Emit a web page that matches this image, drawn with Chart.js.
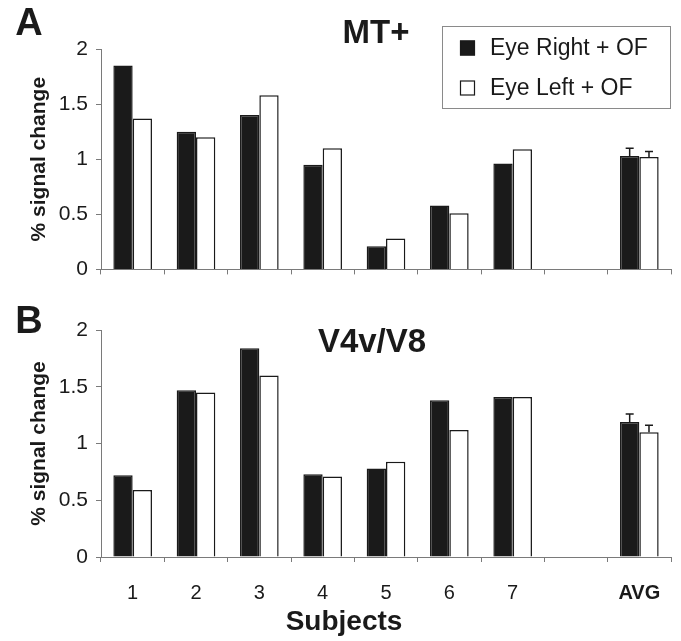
<!DOCTYPE html>
<html>
<head>
<meta charset="utf-8">
<script src="https://cdn.jsdelivr.net/npm/chart.js@4"></script>
<style>
  body { margin: 0; background: #fff; }
  .panel { position: absolute; left: 0; }
</style>
</head>
<body>
<div class="panel" style="top:0"><canvas id="mtChart" width="681" height="290"></canvas></div>
<div class="panel" style="top:290px"><canvas id="v4Chart" width="681" height="351"></canvas></div>
<script>
// categories and values
const subjects = ['1', '2', '3', '4', '5', '6', '7', '', 'AVG'];
const yTicks = [0, 0.5, 1, 1.5, 2];

// panel A: MT+
const mtRight = [1.85, 1.25, 1.40, 0.95, 0.21, 0.58, 0.96, null, 1.03];
const mtLeft = [1.37, 1.20, 1.58, 1.10, 0.28, 0.51, 1.09, null, 1.02];
const mtRightErr = [null, null, null, null, null, null, null, null, 0.07];
const mtLeftErr = [null, null, null, null, null, null, null, null, 0.05];

// panel B: V4v/V8
const v4Right = [0.72, 1.47, 1.84, 0.73, 0.78, 1.38, 1.41, null, 1.19];
const v4Left = [0.59, 1.45, 1.60, 0.71, 0.84, 1.12, 1.41, null, 1.10];
const v4RightErr = [null, null, null, null, null, null, null, null, 0.07];
const v4LeftErr = [null, null, null, null, null, null, null, null, 0.06];

const FONT = "'Liberation Sans', Arial, sans-serif";
const INK = '#1a1a1a';
const AXIS = '#7a7a7a';

// error bars (upward only) on top of bars
const errorBars = {
    id: 'errorBars',
    afterDatasetsDraw(chart) {
        const ctx = chart.ctx;
        const y = chart.scales.y;
        chart.data.datasets.forEach((ds, di) => {
            if (!ds.errors) return;
            const meta = chart.getDatasetMeta(di);
            ds.errors.forEach((err, i) => {
                if (err == null || ds.data[i] == null) return;
                const bar = meta.data[i];
                const yTop = y.getPixelForValue(ds.data[i] + err);
                ctx.save();
                ctx.strokeStyle = INK;
                ctx.lineWidth = 1.5;
                ctx.beginPath();
                ctx.moveTo(bar.x, bar.y);
                ctx.lineTo(bar.x, yTop);
                ctx.moveTo(bar.x - 4, yTop);
                ctx.lineTo(bar.x + 4, yTop);
                ctx.stroke();
                ctx.restore();
            });
        });
    }
};

// panel letter, panel title and optional extra text
const panelText = {
    id: 'panelText',
    afterDraw(chart, args, opts) {
        const ctx = chart.ctx;
        ctx.save();
        ctx.fillStyle = INK;
        ctx.textAlign = 'center';
        ctx.textBaseline = 'alphabetic';
        ctx.font = `bold 38px ${FONT}`;
        ctx.fillText(opts.letter, 29, opts.letterY);
        ctx.font = `bold 33px ${FONT}`;
        ctx.fillText(opts.title, opts.titleX, opts.titleY);
        if (opts.xTitle) {
            ctx.font = `bold 28px ${FONT}`;
            ctx.fillText(opts.xTitle, opts.xTitleX, opts.xTitleY);
        }
        ctx.restore();
    }
};

// boxed legend in the upper right corner
const boxLegend = {
    id: 'boxLegend',
    afterDraw(chart, args, opts) {
        if (!opts.show) return;
        const ctx = chart.ctx;
        ctx.save();
        ctx.strokeStyle = '#8a8a8a';
        ctx.lineWidth = 1;
        ctx.strokeRect(442.5, 26.5, 228, 82);
        ctx.font = `23px ${FONT}`;
        ctx.textBaseline = 'middle';
        ctx.textAlign = 'left';
        const rows = [48, 88];
        chart.data.datasets.forEach((ds, i) => {
            const cy = rows[i];
            ctx.fillStyle = ds.backgroundColor;
            ctx.fillRect(460, cy - 7.5, 15, 15);
            ctx.strokeStyle = INK;
            ctx.lineWidth = 1.2;
            ctx.strokeRect(460.5, cy - 7, 14, 14);
            ctx.fillStyle = INK;
            ctx.fillText(ds.label, 490, cy + 1);
        });
        ctx.restore();
    }
};

function makeChart(id, right, left, rightErr, leftErr, o) {
    return new Chart(document.getElementById(id), {
        type: 'bar',
        data: {
            labels: subjects,
            datasets: [
                {
                    label: 'Eye Right + OF',
                    data: right,
                    errors: rightErr,
                    backgroundColor: INK,
                    borderColor: INK,
                    borderWidth: 1.5
                },
                {
                    label: 'Eye Left + OF',
                    data: left,
                    errors: leftErr,
                    backgroundColor: '#ffffff',
                    borderColor: INK,
                    borderWidth: 1.5
                }
            ]
        },
        options: {
            responsive: false,
            animation: false,
            devicePixelRatio: 1,
            categoryPercentage: 0.61,
            barPercentage: 1.0,
            layout: { padding: { top: o.padTop, right: 10, left: 0, bottom: 0 } },
            scales: {
                x: {
                    afterFit: s => { s.height = o.xHeight; },
                    grid: { offset: true, drawOnChartArea: false, tickLength: 5, color: AXIS },
                    border: { color: AXIS, width: 1 },
                    ticks: {
                        display: o.showX,
                        padding: 19,
                        color: INK,
                        font: c => ({
                            family: FONT,
                            size: 20,
                            weight: c.tick && c.tick.label === 'AVG' ? 'bold' : 'normal'
                        })
                    }
                },
                y: {
                    min: 0,
                    max: 2,
                    afterFit: s => { s.width = 101; },
                    afterBuildTicks: s => { s.ticks = yTicks.map(v => ({ value: v })); },
                    grid: { drawOnChartArea: false, tickLength: 5, color: AXIS },
                    border: { color: AXIS, width: 1 },
                    ticks: {
                        padding: 8,
                        color: INK,
                        font: { family: FONT, size: 21 },
                        callback: v => String(v)
                    },
                    title: {
                        display: true,
                        text: '% signal change',
                        color: INK,
                        font: { family: FONT, size: 21, weight: 'bold' },
                        padding: { top: 27, bottom: 0 }
                    }
                }
            },
            plugins: {
                legend: { display: false },
                title: { display: false },
                tooltip: { enabled: false },
                panelText: o.text,
                boxLegend: { show: o.legend }
            }
        },
        plugins: [errorBars, panelText, boxLegend]
    });
}

makeChart('mtChart', mtRight, mtLeft, mtRightErr, mtLeftErr, {
    padTop: 49, xHeight: 14, showX: false, legend: true,
    text: { letter: 'A', letterY: 35, title: 'MT+', titleX: 376, titleY: 43 }
});

makeChart('v4Chart', v4Right, v4Left, v4RightErr, v4LeftErr, {
    padTop: 40, xHeight: 84, showX: true, legend: false,
    text: {
        letter: 'B', letterY: 43, title: 'V4v/V8', titleX: 372, titleY: 62,
        xTitle: 'Subjects', xTitleX: 344, xTitleY: 340
    }
});
</script>
</body>
</html>
